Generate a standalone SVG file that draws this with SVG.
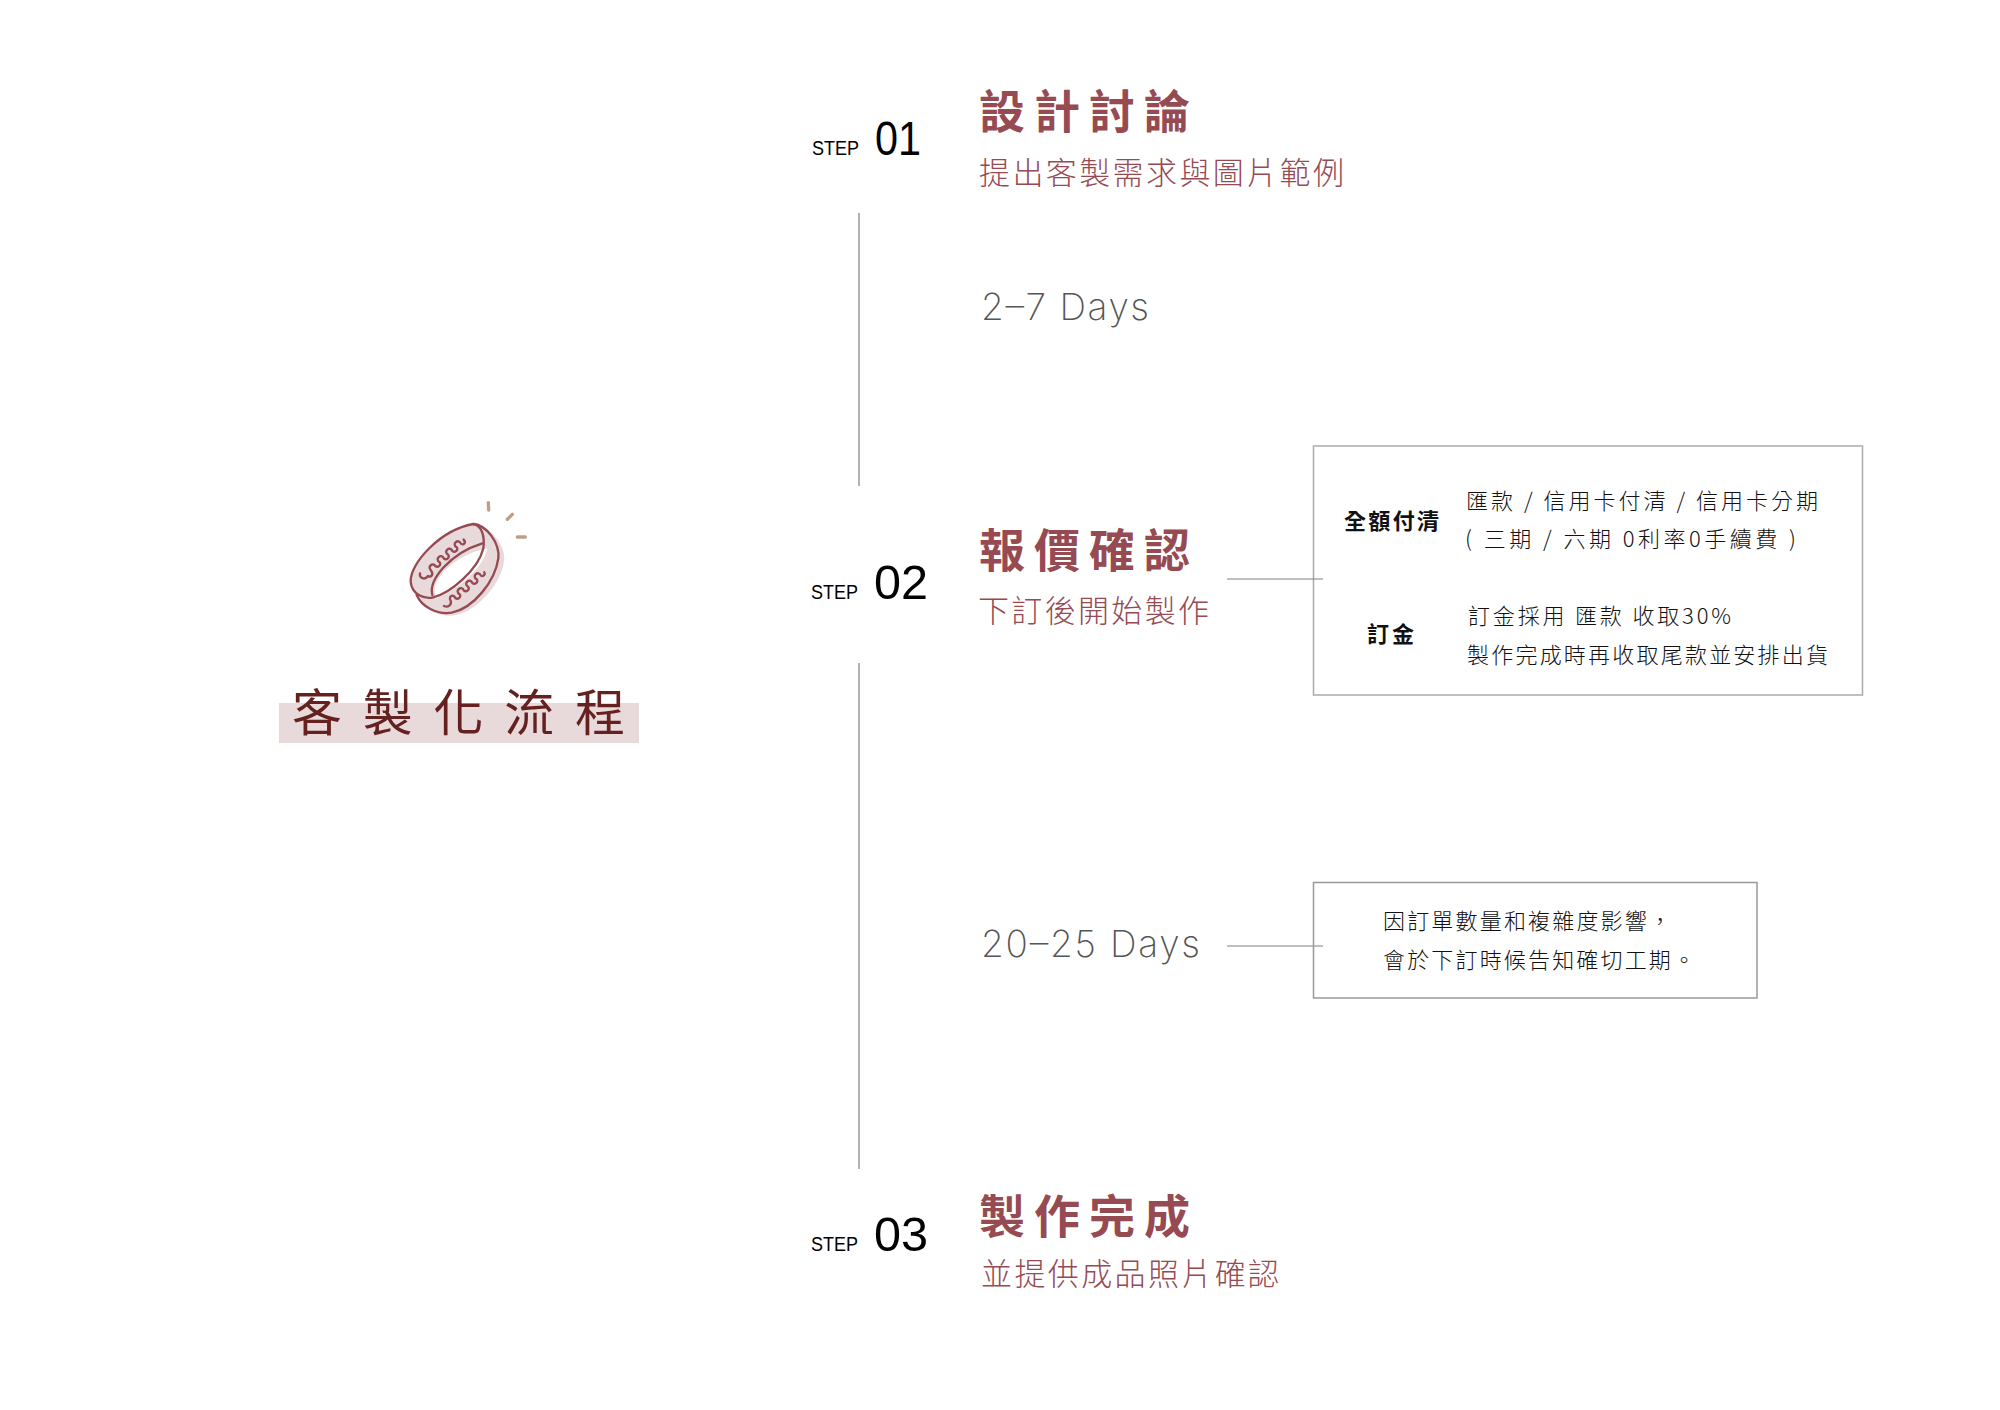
<svg xmlns="http://www.w3.org/2000/svg" width="2000" height="1410" viewBox="0 0 2000 1410">
<style>
text{font-family:"Noto Sans CJK TC","Noto Sans CJK SC",sans-serif}
.main{font-size:50px;fill:#65211f;font-weight:400}
.h{font-size:46px;font-weight:700;fill:#964a52}
.s{font-size:31px;font-weight:300;fill:#964a52}
.step{font-family:"Liberation Sans",Arial,sans-serif;font-size:20px;fill:#000}
.n{font-family:"Liberation Sans",Arial,sans-serif;font-size:48px;fill:#000}
.d{font-family:Inter,"Liberation Sans",sans-serif;font-size:37px;font-weight:200;fill:#555}
.t{font-size:22px;font-weight:300;fill:#111}
.b{font-size:22px;font-weight:700;fill:#111}
.l{stroke:#808080;stroke-width:1.2;fill:none}
.box{fill:#fff;stroke:#aaa;stroke-width:1.5}
.r{fill:none;stroke:#964a52;stroke-width:7;stroke-linecap:round;stroke-linejoin:round}
.sp{stroke:#bf9f83;stroke-width:10;stroke-linecap:round;fill:none}
</style>
<rect width="2000" height="1410" fill="#fff"/>
<g id="title">
<rect x="279" y="703" width="360" height="40" fill="#e8d9db"/>
<text class="main" x="292" y="731" textLength="333">客製化流程</text>
<g id="ring" transform="translate(260 480) scale(.33333)">
<path fill="#e8d9db" d="M452 305C450 250 540 150 640 132C680 130 735 190 733 235C728 310 650 395 585 406C535 414 485 385 470 345C458 335 452 320 452 305Z"/>
<path fill="#fff" d="M525 340C515 300 580 225 682 205C670 265 600 325 525 357Z"/>
<path class="r" d="M452 305C450 250 540 150 640 132C665 135 675 170 670 205C655 270 570 340 520 352C495 358 455 345 452 305Z"/>
<path class="r" d="M517 345C505 300 570 220 667 190"/>
<path class="r" d="M640 132C680 135 720 190 715 235C705 305 640 385 575 398C530 405 485 380 470 345"/>
<path class="r" d="M480 280c-3 14 14 22 24 8c8 6 19.400 -3.700 8 -18c-10 -10 6 -24 14 -12c8 6 19.400 -3.700 12.800 -11.200c-16.400 -9.500 5.400 -28.700 12.800 -11.200c8 6 19.400 -3.700 12.800 -11.200c-16.400 -9.500 5.400 -28.700 12.800 -11.200c8 6 19.400 -3.700 12.800 -11.200c-16.400 -9.500 5.400 -28.700 12.800 -11.200c8 6 17 -2 8 -12" />
<path class="r" d="M552 378c12 6 24 -4 20 -16c-8 -12 8 -22 14 -8c8 6 19.400 -3.700 12.800 -11.200c-16.400 -9.500 5.400 -28.700 12.800 -11.200c8 6 19.400 -3.700 12.800 -11.200c-16.400 -9.500 5.400 -28.700 12.800 -11.200c8 6 19.400 -3.700 12.800 -11.200c-16.400 -9.500 5.400 -28.700 12.800 -11.200c6 4 14 -2 10 -10"/>
<path class="sp" d="M685 68L686 90M742 118L757 103M772 171L796 171"/>
</g>
</g>
<g id="connectors">
<path class="l" d="M859 213V486M859 663V1169"/>
</g>
<g id="step1">
<text class="step" x="812" y="155" textLength="47" lengthAdjust="spacingAndGlyphs">STEP</text>
<text class="n" x="875" y="155" textLength="46" lengthAdjust="spacingAndGlyphs">01</text>
<text class="h" x="979" y="128" textLength="211">設計討論</text>
<text class="s" x="979" y="184" textLength="365">提出客製需求與圖片範例</text>
</g>
<g id="days1"><text class="d" x="981" y="320" textLength="168">2–7 Days</text></g>
<g id="step2">
<text class="step" x="811" y="599" textLength="47" lengthAdjust="spacingAndGlyphs">STEP</text>
<text class="n" x="874" y="599" textLength="54" lengthAdjust="spacingAndGlyphs">02</text>
<text class="h" x="979" y="567" textLength="211">報價確認</text>
<text class="s" x="978" y="622" textLength="231">下訂後開始製作</text>
</g>
<g id="pay-box">
<rect class="box" x="1313.5" y="446" width="549" height="249"/>
<path class="l" d="M1227 579H1323"/>
<text class="b" x="1344" y="529" textLength="95">全額付清</text>
<text class="t" x="1466" y="509" textLength="352">匯款 / 信用卡付清 / 信用卡分期</text>
<text class="t" x="1465" y="547" textLength="331">( 三期 / 六期 0利率0手續費 )</text>
<text class="b" x="1367" y="642" textLength="47">訂金</text>
<text class="t" x="1468" y="624" textLength="263">訂金採用 匯款 收取30%</text>
<text class="t" x="1467" y="663" textLength="361">製作完成時再收取尾款並安排出貨</text>
</g>
<g id="days2">
<text class="d" x="981" y="957" textLength="219">20–25 Days</text>
<path class="l" d="M1227 946H1323"/>
</g>
<g id="time-box">
<rect class="box" x="1313.5" y="882.500" width="443.500" height="115.500" style="stroke:#999;fill:none"/>
<text class="t" x="1383" y="929" textLength="288">因訂單數量和複雜度影響，</text>
<text class="t" x="1383" y="968" textLength="312">會於下訂時候告知確切工期。</text>
</g>
<g id="step3">
<text class="step" x="811" y="1251" textLength="47" lengthAdjust="spacingAndGlyphs">STEP</text>
<text class="n" x="874" y="1251" textLength="54" lengthAdjust="spacingAndGlyphs">03</text>
<text class="h" x="979" y="1233" textLength="211">製作完成</text>
<text class="s" x="981" y="1285" textLength="298">並提供成品照片確認</text>
</g>
</svg>
